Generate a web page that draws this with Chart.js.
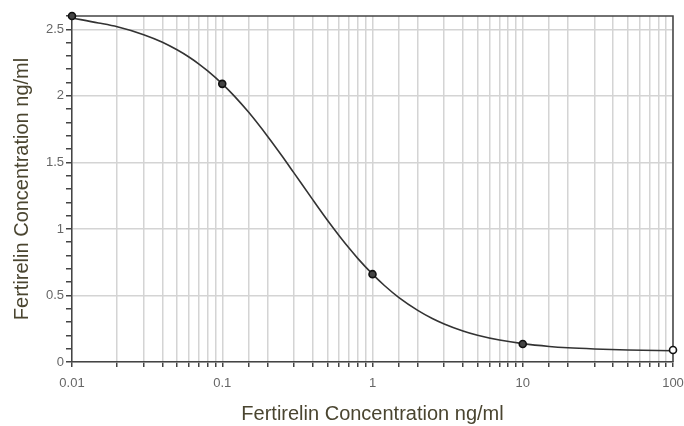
<!DOCTYPE html>
<html>
<head>
<meta charset="utf-8">
<script src="https://cdn.jsdelivr.net/npm/chart.js@4/dist/chart.umd.min.js"></script>
<style>
  html, body { margin: 0; padding: 0; background: #fff; }
  #wrap { width: 684px; height: 426px; }
</style>
</head>
<body>
<div id="wrap"><canvas id="c" width="684" height="426"></canvas></div>
<script>
// Standard points (concentration ng/ml -> response)
const pointX = [0.01, 0.1, 1, 10, 100];
const pointY = [2.60, 2.09, 0.66, 0.135, 0.09];

// Fitted curve
const curveX = [0.01, 0.015, 0.02, 0.03, 0.04, 0.05, 0.06, 0.07, 0.08, 0.1, 0.12, 0.15, 0.2, 0.25, 0.3, 0.4, 0.5, 0.6, 0.7, 0.8, 1, 1.2, 1.5, 2, 2.5, 3, 4, 5, 7, 10, 15, 20, 30, 50, 100];
const curveY = [2.585, 2.548, 2.519, 2.460, 2.403, 2.346, 2.292, 2.239, 2.187, 2.090, 2.000, 1.876, 1.697, 1.548, 1.421, 1.220, 1.067, 0.949, 0.854, 0.777, 0.660, 0.575, 0.484, 0.388, 0.327, 0.286, 0.233, 0.201, 0.165, 0.138, 0.117, 0.107, 0.098, 0.090, 0.085];

// Axis labels
const xTickLabels = [0.01, 0.1, 1, 10, 100];
const yTickLabels = [0, 0.5, 1, 1.5, 2, 2.5];
const axisTitleX = 'Fertirelin Concentration ng/ml';
const axisTitleY = 'Fertirelin Concentration ng/ml';

const curveData = curveX.map((x, i) => ({ x: x, y: curveY[i] }));
const pointData = pointX.map((x, i) => ({ x: x, y: pointY[i] }));

const isMajorY = v => Math.abs(v * 2 - Math.round(v * 2)) < 1e-6;
const findPow10 = v => xTickLabels.find(t => Math.abs(t - v) / t < 1e-6);

const framePlugin = {
  id: 'frame',
  beforeDatasetsDraw(chart) {
    const a = chart.chartArea, ctx = chart.ctx;
    ctx.save();
    ctx.strokeStyle = '#444';
    ctx.lineWidth = 1.5;
    ctx.beginPath();
    ctx.moveTo(a.left, a.top);
    ctx.lineTo(a.right, a.top);
    ctx.lineTo(a.right, a.bottom);
    ctx.stroke();
    ctx.restore();
  }
};

new Chart(document.getElementById('c'), {
  type: 'scatter',
  data: {
    datasets: [
      {
        data: curveData,
        showLine: true,
        borderColor: '#333',
        borderWidth: 1.6,
        pointRadius: 0,
        cubicInterpolationMode: 'monotone',
        fill: false,
        clip: 4,
        order: 2
      },
      {
        data: pointData,
        showLine: false,
        pointRadius: 3.5,
        pointBorderWidth: 1.6,
        pointBorderColor: '#111',
        pointBackgroundColor: ['#444', '#444', '#444', '#444', '#fff'],
        clip: false,
        order: 1
      }
    ]
  },
  options: {
    responsive: false,
    animation: false,
    devicePixelRatio: 1,
    layout: { padding: { left: 0, right: 11, top: 16, bottom: 0 } },
    plugins: { legend: { display: false }, tooltip: { enabled: false } },
    scales: {
      x: {
        type: 'logarithmic',
        min: 0.01,
        max: 100,
        afterFit(scale) { scale.height = 64; scale.paddingRight = 0; scale.paddingLeft = 0; },
        border: { color: '#444', width: 1.5 },
        grid: {
          color: '#d4d4d4',
          lineWidth: 1.5,
          tickColor: '#444',
          tickLength: 5,
          tickWidth: 1.5
        },
        ticks: {
          autoSkip: false,
          maxRotation: 0,
          color: '#666',
          font: { family: 'Liberation Sans, Arial', size: 13 },
          padding: 9,
          callback(v) { const t = findPow10(v); return t !== undefined ? String(t) : ''; }
        },
        title: {
          display: true,
          text: axisTitleX,
          color: '#4a4530',
          font: { family: 'Liberation Sans, Arial', size: 20 },
          padding: { top: 0, bottom: 0 }
        }
      },
      y: {
        min: 0,
        max: 2.6,
        afterFit(scale) { scale.width = 72; },
        border: { color: '#444', width: 1.5 },
        grid: {
          color: ctx => (ctx.tick && isMajorY(ctx.tick.value) && ctx.tick.value < 2.55) ? '#d4d4d4' : 'rgba(0,0,0,0)',
          lineWidth: 1.5,
          tickColor: '#444',
          tickLength: 6,
          tickWidth: 1.5
        },
        ticks: {
          stepSize: 0.1,
          maxTicksLimit: 100,
          autoSkip: false,
          color: '#666',
          font: { family: 'Liberation Sans, Arial', size: 13, lineHeight: 0.8 },
          padding: 2,
          callback(v) {
            if (!isMajorY(v)) return '';
            const r = Math.round(v * 2) / 2;
            return yTickLabels.includes(r) ? String(r) : '';
          }
        },
        title: {
          display: true,
          text: axisTitleY,
          color: '#4a4530',
          font: { family: 'Liberation Sans, Arial', size: 20 },
          padding: { top: 10, bottom: 0 }
        }
      }
    }
  },
  plugins: [framePlugin]
});
</script>
</body>
</html>
